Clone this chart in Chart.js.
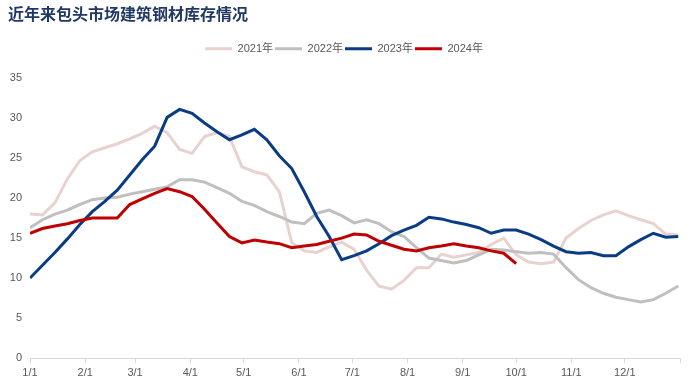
<!DOCTYPE html>
<html>
<head>
<meta charset="utf-8">
<script src="https://cdn.jsdelivr.net/npm/chart.js@4.4.1/dist/chart.umd.min.js"></script>
<style>
  html, body { margin: 0; padding: 0; background: #fff; }
  #wrap { width: 697px; height: 391px; }
</style>
</head>
<body>
<div id="wrap"><canvas id="stock"></canvas></div>
<script>
// weekly stock (万吨), one value per week starting 1/1
var s2021 = [18.0, 17.9, 19.4, 22.4, 24.7, 25.8, 26.3, 26.8, 27.4, 28.1, 29.0, 28.2, 26.1, 25.6, 27.7, 28.2, 27.7, 23.9, 23.3, 22.9, 20.8, 14.4, 13.4, 13.2, 13.9, 14.5, 13.6, 11.0, 9.0, 8.6, 9.7, 11.3, 11.3, 13.0, 12.6, 12.9, 13.2, 14.2, 15.0, 12.9, 12.0, 11.8, 12.0, 15.0, 16.2, 17.2, 17.9, 18.4, 17.8, 17.3, 16.8, 15.5, 15.4];
var s2022 = [16.3, 17.3, 18.0, 18.5, 19.2, 19.8, 20.0, 20.1, 20.5, 20.8, 21.1, 21.4, 22.3, 22.3, 22.0, 21.3, 20.6, 19.6, 19.1, 18.3, 17.7, 17.0, 16.8, 18.1, 18.5, 17.8, 16.9, 17.3, 16.8, 15.8, 15.2, 13.8, 12.5, 12.2, 11.9, 12.2, 12.9, 13.6, 13.5, 13.3, 13.1, 13.2, 13.0, 11.3, 9.8, 8.8, 8.1, 7.6, 7.3, 7.0, 7.3, 8.1, 9.0];
var s2023 = [10.0, 11.6, 13.2, 14.9, 16.7, 18.3, 19.6, 21.0, 22.9, 24.8, 26.5, 30.1, 31.1, 30.6, 29.4, 28.3, 27.3, 27.9, 28.6, 27.3, 25.3, 23.7, 20.8, 17.7, 15.2, 12.3, 12.8, 13.4, 14.3, 15.3, 16.0, 16.6, 17.6, 17.4, 17.0, 16.7, 16.3, 15.6, 16.0, 16.0, 15.5, 14.8, 14.0, 13.3, 13.1, 13.2, 12.8, 12.8, 13.9, 14.8, 15.6, 15.1, 15.2];
var s2024 = [15.6, 16.2, 16.5, 16.8, 17.2, 17.5, 17.5, 17.5, 19.2, 19.9, 20.6, 21.2, 20.8, 20.2, 18.6, 16.9, 15.2, 14.4, 14.75, 14.5, 14.3, 13.8, 14.0, 14.2, 14.6, 15.0, 15.5, 15.4, 14.6, 14.1, 13.6, 13.4, 13.8, 14.0, 14.3, 14.0, 13.8, 13.4, 13.1, 11.8];

var yearNames = ['2021年', '2022年', '2023年', '2024年'];
var monthStarts = [0, 31, 59, 90, 120, 151, 181, 212, 243, 273, 304, 334, 365];
var monthLabels = ['1/1', '2/1', '3/1', '4/1', '5/1', '6/1', '7/1', '8/1', '9/1', '10/1', '11/1', '12/1', ''];

function toPoints(arr) {
    return arr.map(function (v, i) { return { x: i * 7, y: v }; });
}

var colors = ['#e8d2d0', '#bfbfbf', '#0a3c85', '#c00000'];
var series = [s2021, s2022, s2023, s2024];
var order = [4, 3, 2, 1];

var datasets = series.map(function (s, k) {
    return {
        label: yearNames[k],
        data: toPoints(s),
        borderColor: colors[k],
        backgroundColor: colors[k],
        borderWidth: 3,
        pointRadius: 0,
        tension: 0,
        order: order[k]
    };
});

// extra room under the legend
var legendGap = {
    id: 'legendGap',
    beforeLayout: function (chart) {
        var lg = chart.legend;
        if (lg && !lg._gap) {
            lg._gap = true;
            var fit = lg.fit;
            lg.fit = function () {
                fit.call(this);
                this.height += 14;
            };
        }
    }
};

var labelFont = { family: "'Liberation Sans', Arial, 'Noto Sans CJK SC'", size: 11 };

new Chart(document.getElementById('stock').getContext('2d'), {
    type: 'line',
    data: { datasets: datasets },
    plugins: [legendGap],
    options: {
        responsive: true,
        maintainAspectRatio: false,
        animation: false,
        layout: { padding: { left: 8, right: 17, top: 0, bottom: 0 } },
        plugins: {
            title: {
                display: true,
                text: '近年来包头市场建筑钢材库存情况',
                align: 'start',
                color: '#1f3864',
                font: { family: "'Noto Sans CJK SC'", size: 16, weight: 'bold' },
                padding: { top: 4, bottom: 18 }
            },
            legend: {
                position: 'top',
                align: 'center',
                labels: {
                    usePointStyle: true,
                    pointStyle: 'line',
                    pointStyleWidth: 27,
                    color: '#595959',
                    font: labelFont,
                    padding: 2,
                    sort: function (a, b) { return a.datasetIndex - b.datasetIndex; }
                }
            },
            tooltip: { enabled: false }
        },
        scales: {
            x: {
                type: 'linear',
                min: 0,
                max: 365,
                afterBuildTicks: function (axis) {
                    axis.ticks = monthStarts.map(function (v) { return { value: v }; });
                },
                afterFit: function (axis) { axis.height = 33; },
                ticks: {
                    autoSkip: false,
                    maxRotation: 0,
                    color: '#595959',
                    font: labelFont,
                    padding: 3,
                    callback: function (v, i) { return monthLabels[i]; }
                },
                grid: { drawOnChartArea: false, drawTicks: true, tickLength: 5, color: '#d9d9d9' },
                border: { display: true, color: '#d9d9d9', width: 1 }
            },
            y: {
                min: 0,
                max: 35,
                afterFit: function (axis) { axis.width = 22; },
                ticks: { stepSize: 5, color: '#595959', font: labelFont, padding: 8 },
                grid: { display: false, drawTicks: false },
                border: { display: false }
            }
        }
    }
});
</script>
</body>
</html>
